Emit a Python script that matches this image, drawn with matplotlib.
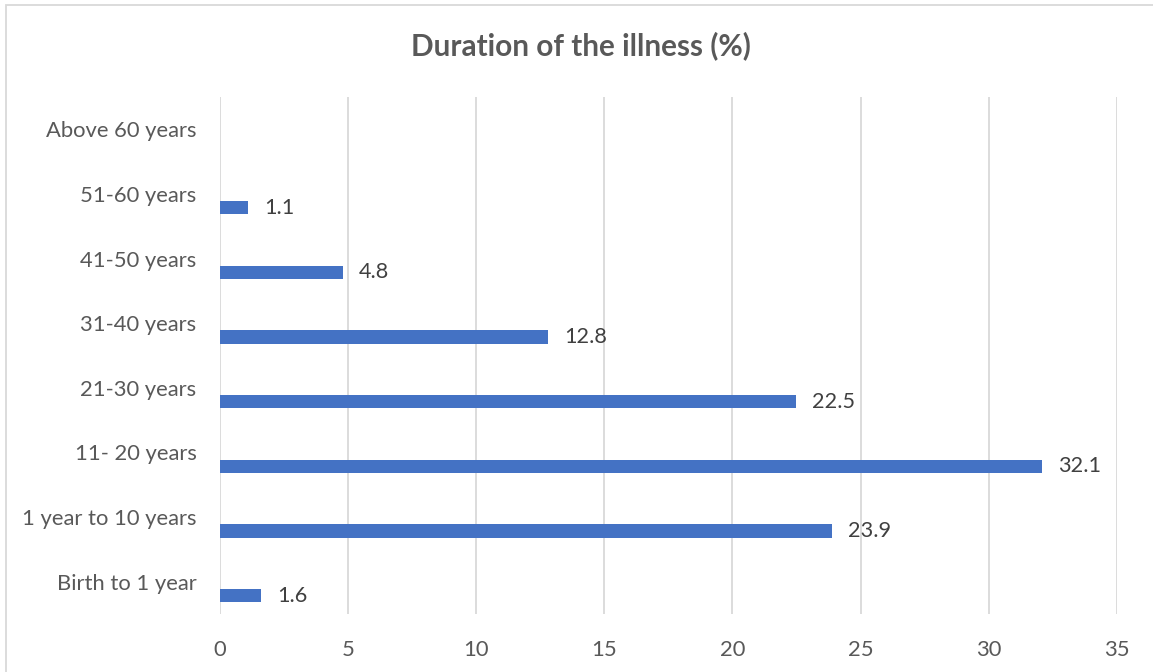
import matplotlib
matplotlib.use("Agg")
import matplotlib.pyplot as plt
from matplotlib.patches import Rectangle

categories = ["Birth to 1 year", "1 year to 10 years", "11- 20 years", "21-30 years",
              "31-40 years", "41-50 years", "51-60 years", "Above 60 years"]
values = [1.6, 23.9, 32.1, 22.5, 12.8, 4.8, 1.1, None]
x_ticks = [0, 5, 10, 15, 20, 25, 30, 35]
title = "Duration of the illness (%)"

BAR = "#4472C4"
GRID = "#D9D9D9"
TEXT = "#595959"
FONT = "Lato"

plt.rcParams["font.family"] = [FONT, "DejaVu Sans"]

fig = plt.figure(figsize=(11.53, 6.72), dpi=100)
W, H = 1153, 672
ax = fig.add_axes([220 / W, 1 - 614 / H, (1116.7 - 220) / W, (614 - 97) / H])

# chart frame (left and top edges)
fig.patches.append(Rectangle((6 / W, -0.1), 1.2, 1 - 5 / H + 0.1, transform=fig.transFigure,
                             fill=False, edgecolor=GRID, linewidth=1.3))

offset = 0.215
height = 0.205
for i, v in enumerate(values):
    if v is None:
        continue
    ax.barh(i - offset, v, height=height, color=BAR, zorder=3)
    ax.text(v + 0.62, i - offset, f"{v}", va="center", ha="left",
            fontsize=15.6, color="#404040", zorder=4)

ax.set_xlim(0, 35)
ax.set_ylim(-0.5, len(categories) - 0.5)
ax.set_xticks(x_ticks)
ax.set_xticklabels([str(t) for t in x_ticks])
ax.set_yticks(range(len(categories)))
ax.set_yticklabels(categories)
ax.tick_params(axis="both", length=0, labelsize=15.8, labelcolor=TEXT)
ax.tick_params(axis="x", pad=19)
ax.tick_params(axis="y", pad=17)
ax.grid(axis="x", color=GRID, linewidth=1.3, zorder=0)
for s in ax.spines.values():
    s.set_visible(False)

fig.text(581 / W, 1 - 46 / H, title, ha="center", va="center",
         fontsize=21.4, fontweight="bold", color=TEXT)

fig.savefig("out.png", dpi=100)
